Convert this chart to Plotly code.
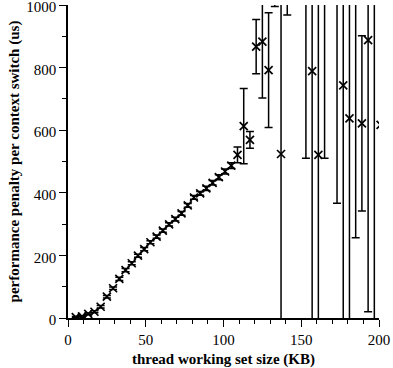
import plotly.graph_objects as go

x_kb = [5, 9, 13, 17, 21, 25, 29, 33, 37, 41, 45, 49, 53, 57, 61, 65, 69, 73, 77,
        81, 85, 89, 93, 97, 101, 105, 109, 113, 117, 121, 125, 129, 133, 137, 141,
        153, 157, 161, 165, 173, 177, 181, 185, 189, 193, 197, 201]
penalty = [3, 5, 13, 20, 36, 68, 95, 125, 153, 175, 199, 220, 242, 260, 279, 299, 316, 334, 360,
           385, 398, 414, 432, 450, 468, 487, 521, 613, 569, 867, 883, 792, 1150, 524, 1200,
           1300, 789, 521, 1400, 1300, 743, 638, 1200, 622, 888, 1100, 617]
err = [2, 2, 3, 3, 4, 4, 4, 5, 5, 5, 5, 5, 5, 5, 5, 5, 6, 6, 6,
       6, 6, 7, 7, 8, 8, 9, 25, 120, 27, 87, 180, 183, 155, 700, 232,
       790, 900, 800, 890, 933, 1000, 900, 944, 280, 868, 1300, 800]

fig = go.Figure()
fig.add_trace(go.Scatter(
    x=x_kb, y=penalty, mode="markers",
    marker=dict(symbol="x-thin", size=8, line=dict(color="black", width=1.7), color="black"),
    error_y=dict(type="data", array=err, visible=True, color="black", thickness=1.5, width=4),
    showlegend=False,
))

font_serif = "Liberation Serif, DejaVu Serif, serif"
fig.update_layout(
    width=393, height=368,
    margin=dict(l=68, r=14, t=5, b=50, autoexpand=False),
    plot_bgcolor="white", paper_bgcolor="white",
    font=dict(family=font_serif, color="black", size=15),
)
fig.update_xaxes(
    range=[0, 200], showgrid=False, zeroline=False, automargin=False,
    showline=True, linecolor="black", linewidth=1.5,
    ticks="outside", ticklen=7, tickwidth=1.3, tickcolor="black",
    tickvals=[0, 50, 100, 150, 200], ticklabeloverflow="allow",
    minor=dict(dtick=10, ticks="outside", ticklen=4, tickwidth=1, tickcolor="black", showgrid=False),
    title=dict(text="<b>thread working set size (KB)</b>", font=dict(size=15), standoff=10),
    tickfont=dict(size=15),
)
fig.update_yaxes(
    range=[0, 1000.01], showgrid=False, zeroline=False, automargin=False,
    showline=True, linecolor="black", linewidth=1.5,
    ticks="outside", ticklen=7, tickwidth=1.3, tickcolor="black",
    tickvals=[0, 200, 400, 600, 800, 1000], ticklabeloverflow="allow",
    ticklabelshift=2,
    minor=dict(dtick=100, ticks="outside", ticklen=4, tickwidth=1, tickcolor="black", showgrid=False),
    title=dict(text="<b>performance penalty per context switch (us)</b>", font=dict(size=15), standoff=3),
    tickfont=dict(size=15),
)

fig.write_html(
    "out.html",
    config={"displayModeBar": False},
    post_script="document.body.style.margin='0';document.body.style.padding='0';",
)
